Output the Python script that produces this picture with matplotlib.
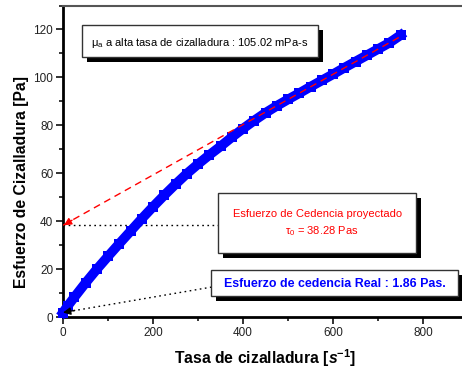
import matplotlib.pyplot as plt
from matplotlib.patches import Rectangle
from matplotlib.ticker import MultipleLocator

plt.rcParams['font.family'] = ['Liberation Sans', 'DejaVu Sans']
plt.rcParams['mathtext.fontset'] = 'custom'
plt.rcParams['mathtext.rm'] = 'Liberation Sans'
plt.rcParams['mathtext.it'] = 'Liberation Sans:italic'
plt.rcParams['mathtext.bf'] = 'Liberation Sans:bold'
plt.rcParams['mathtext.bfit'] = 'Liberation Sans:bold:italic'

# Curva de flujo: tasa de cizalladura [1/s] y esfuerzo de cizalladura [Pa]
tasa = [0, 10, 25, 50, 75, 100, 125, 150, 175, 200, 225, 250, 275, 300,
        325, 350, 375, 400, 425, 450, 475, 500, 525, 550, 575, 600, 625,
        650, 675, 700, 725, 750]
esfuerzo = [1.86, 4.5, 8.2, 14.2, 19.9, 25.3, 30.6, 35.8, 41.0, 46.0, 50.8,
            55.4, 59.8, 63.8, 67.6, 71.2, 75.0, 78.6, 82.0, 85.2, 88.1, 90.8,
            93.4, 96.1, 98.7, 101.3, 104.0, 106.6, 109.2, 111.8, 114.4, 117.6]

# Ajuste lineal a alta tasa de cizalladura
tau0_proy = 38.28   # Pa
mu_alta = 105.02    # mPa-s
tau0_real = 1.86    # Pa
x_ajuste = [0, 750]

W, H = 462, 372
fig = plt.figure(figsize=(W / 100, H / 100), dpi=100)


def fx(x):
    return x / W


def fy(y):
    return 1 - y / H


ax = fig.add_axes([fx(63), fy(317), (468 - 63) / W, (317 - 5.5) / H])

ax.plot(tasa, esfuerzo, color='blue', lw=7, marker='s', ms=6.5, mew=0,
        solid_joinstyle='miter', clip_on=False, zorder=3)

y_ajuste = [tau0_proy + mu_alta / 1000 * x for x in x_ajuste]
ax.plot(x_ajuste, y_ajuste, color='red', lw=1, dashes=(5, 3.5), zorder=4)
ax.annotate('', xy=(2, tau0_proy), xytext=(20, tau0_proy + 20 * mu_alta / 1000),
            arrowprops=dict(arrowstyle='-|>', color='red', lw=1,
                            mutation_scale=11, shrinkA=0, shrinkB=0),
            annotation_clip=False, zorder=5)

# lineas punteadas hacia los cuadros
ax.plot([0, 360], [tau0_proy, tau0_proy], color='black', lw=1,
        dashes=(1.2, 2.5), zorder=2)
ax.plot([0, 340], [tau0_real, 12.8], color='black', lw=1,
        dashes=(1.2, 2.5), zorder=2)
ax.annotate('', xy=(0, tau0_real), xytext=(26, tau0_real + 0.9),
            arrowprops=dict(arrowstyle='-|>', color='black', lw=1,
                            mutation_scale=11, shrinkA=0, shrinkB=0),
            annotation_clip=False, zorder=6)

ax.set_xlim(0, 900)
ax.set_ylim(0, 130)
ax.set_xticks([0, 200, 400, 600, 800])
ax.set_yticks([0, 20, 40, 60, 80, 100, 120])
ax.xaxis.set_minor_locator(MultipleLocator(100))
ax.yaxis.set_minor_locator(MultipleLocator(10))
ax.tick_params(which='major', direction='out', length=5, width=1.3,
               labelsize=8.5, colors='#222222', pad=2)
ax.tick_params(which='minor', direction='out', length=3, width=1.1)
ax.spines['left'].set_linewidth(2)
ax.spines['bottom'].set_linewidth(2)
ax.spines['top'].set_linewidth(1.5)
ax.spines['top'].set_color('#555555')

fig.text(fx(265), fy(358), r'Tasa de cizalladura [$\mathbfit{s}^{\mathbf{-1}}$]',
         ha='center', va='center', fontsize=11.3, fontweight='bold')
fig.text(fx(22), fy(182), 'Esfuerzo de Cizalladura [Pa]', rotation=90,
         ha='center', va='center', fontsize=11.3, fontweight='bold')


def caja(x0, y0, x1, y1, sombra=5):
    ancho, alto = (x1 - x0) / W, (y1 - y0) / H
    fig.add_artist(Rectangle((fx(x0 + sombra), fy(y1 + sombra)), ancho, alto,
                             facecolor='black', edgecolor='black', lw=0,
                             transform=fig.transFigure, zorder=5))
    fig.add_artist(Rectangle((fx(x0), fy(y1)), ancho, alto, facecolor='white',
                             edgecolor='#333333', lw=1,
                             transform=fig.transFigure, zorder=6))


caja(82, 25, 318, 57)
fig.text(fx(91), fy(43),
         r'$\mathrm{\mu}_\mathrm{a}$ a alta tasa de cizalladura : %.2f mPa-s' % mu_alta,
         ha='left', va='center', fontsize=8, zorder=7)

caja(218, 193, 416, 253)
fig.text(fx(318), fy(214), 'Esfuerzo de Cedencia proyectado', color='red',
         ha='center', va='center', fontsize=8, zorder=7)
fig.text(fx(322), fy(231), r'$\mathrm{\tau}_\mathrm{0}$ = %.2f Pas' % tau0_proy,
         color='red', ha='center', va='center', fontsize=8, zorder=7)

caja(211, 270, 458, 296)
fig.text(fx(335), fy(284), 'Esfuerzo de cedencia Real : %.2f Pas.' % tau0_real,
         color='blue', ha='center', va='center', fontsize=8.9,
         fontweight='bold', zorder=7)

fig.savefig('out.png', dpi=100)
